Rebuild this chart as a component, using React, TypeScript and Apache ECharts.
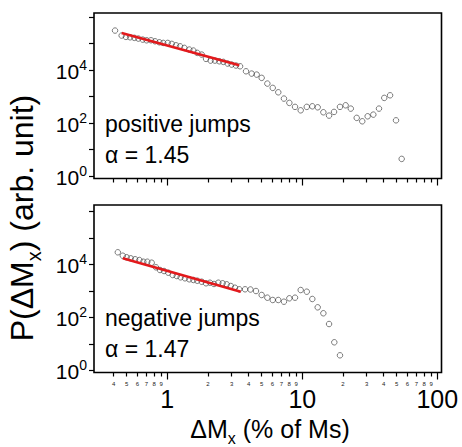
import React, { useEffect, useRef } from 'react';
import * as echarts from 'echarts';

// ---- data (ΔMx in % of Ms, P in arb. unit) ----
const posX = [0.410, 0.459, 0.494, 0.530, 0.570, 0.610, 0.658, 0.703, 0.757, 0.811, 0.873, 0.933, 1.007, 1.079, 1.159, 1.242, 1.337, 1.455, 1.560, 1.667, 1.799, 1.936, 2.094, 2.254, 2.427, 2.600, 2.799, 2.999, 3.228, 3.459, 3.828, 4.217, 4.592, 5.000, 5.508, 6.039, 6.637, 7.311, 8.017, 8.831, 9.727, 10.79, 11.86, 13.00, 14.32, 15.78, 17.18, 19.01, 20.94, 22.86, 25.29, 27.80, 30.48, 33.57, 36.98, 40.46, 44.67, 49.43, 54.45];
const posY = [3.07e5, 1.99e5, 1.77e5, 1.71e5, 1.63e5, 1.53e5, 1.40e5, 1.32e5, 1.32e5, 1.21e5, 1.11e5, 1.05e5, 1.05e5, 9.66e4, 8.55e4, 7.83e4, 6.82e4, 5.89e4, 5.40e4, 4.42e4, 3.81e4, 2.62e4, 2.26e4, 2.26e4, 2.13e4, 2.02e4, 1.75e4, 1.60e4, 1.47e4, 1.38e4, 8.93e3, 7.31e3, 6.70e3, 5.04e3, 3.07e3, 2.11e3, 1.44e3, 834, 573, 406, 301, 406, 427, 391, 254, 190, 262, 406, 466, 349, 156, 116, 179, 207, 349, 885, 1109, 126, 4.42];
const negX = [0.430, 0.468, 0.500, 0.536, 0.577, 0.621, 0.664, 0.711, 0.766, 0.824, 0.883, 0.946, 1.016, 1.096, 1.175, 1.256, 1.352, 1.455, 1.560, 1.667, 1.799, 1.936, 2.070, 2.218, 2.388, 2.570, 2.754, 2.951, 3.170, 3.412, 3.767, 4.130, 4.539, 5.000, 5.508, 6.039, 6.637, 7.311, 8.017, 8.831, 9.727, 10.79, 11.86, 13.00, 14.32, 15.78, 17.26, 19.01];
const negY = [2.84e4, 2.11e4, 1.84e4, 1.68e4, 1.55e4, 1.45e4, 1.25e4, 1.25e4, 1.15e4, 7.71e3, 6.10e3, 5.58e3, 4.82e3, 3.94e3, 3.61e3, 3.23e3, 2.96e3, 2.72e3, 2.56e3, 2.40e3, 2.20e3, 1.92e3, 2.02e3, 1.81e3, 2.02e3, 1.92e3, 1.76e3, 1.52e3, 1.31e3, 1.14e3, 1.14e3, 1.12e3, 982, 695, 550, 450, 450, 388, 521, 550, 1.07e3, 925, 491, 238, 142, 55.8, 11.4, 3.68];
const posFitX = [0.459, 3.41];
const posFitY = [2.51e5, 1.50e4];
const negFitX = [0.468, 3.50];
const negFitY = [1.68e4, 925];

const majorXTicks = [1, 10, 100];
const minorXTicks = [0.4, 0.5, 0.6, 0.7, 0.8, 0.9, 2, 3, 4, 5, 6, 7, 8, 9, 20, 30, 40, 50, 60, 70, 80, 90];
const yTicks = [1, 10, 1e2, 1e3, 1e4, 1e5, 1e6];
const yLabelTicks = [1, 1e2, 1e4];
const posText = ['positive jumps', 'α = 1.45'];
const negText = ['negative jumps', 'α = 1.47'];
const xTitle = ['ΔM', 'x', ' (% of Ms)'];
const yTitle = ['P(ΔM', 'x', ') (arb. unit)'];

const FONT = "'Liberation Sans', Arial, sans-serif";
const L = Math.log10;
const X_MIN = -0.543;
const X_MAX = 2.031;

function App() {
  const ref = useRef<HTMLDivElement>(null);
  useEffect(() => {
    if (!ref.current) return;
    const chart = echarts.init(ref.current, null, { renderer: 'svg' });

    const pts = (xs: number[], ys: number[]) => xs.map((x, i) => [L(x), L(ys[i])]);

    const xMajor = (grid: number, showLabel: boolean) => ({
      type: 'value', gridIndex: grid, position: 'bottom', min: X_MIN, max: X_MAX,
      axisLine: { show: false, onZero: false }, splitLine: { show: false },
      axisTick: { show: true, inside: false, length: 7, customValues: majorXTicks.map(L), lineStyle: { color: '#000', width: 1.2 } },
      axisLabel: {
        show: showLabel, customValues: majorXTicks.map(L), margin: 14, fontSize: 25, color: '#000', fontFamily: FONT,
        formatter: (v: number) => String(Math.round(Math.pow(10, v))),
      },
    });
    const xMinor = (grid: number, showLabel: boolean) => ({
      type: 'value', gridIndex: grid, position: 'bottom', min: X_MIN, max: X_MAX,
      axisLine: { show: false, onZero: false }, splitLine: { show: false },
      axisTick: { show: true, inside: false, length: 4, customValues: minorXTicks.map(L), lineStyle: { color: '#000', width: 1.2 } },
      axisLabel: {
        show: showLabel, customValues: minorXTicks.map(L), margin: 8, fontSize: 6, color: '#222', fontFamily: FONT,
        formatter: (v: number) => {
          const x = Math.pow(10, v);
          return String(Math.round(x / Math.pow(10, Math.floor(v + 1e-9))));
        },
      },
    });
    const yAx = (grid: number, min: number, max: number) => ({
      type: 'value', gridIndex: grid, position: 'left', min, max,
      axisLine: { show: false, onZero: false }, splitLine: { show: false },
      axisTick: { show: true, inside: false, length: 5, customValues: yTicks.map(L), lineStyle: { color: '#000', width: 1.2 } },
      axisLabel: {
        customValues: yLabelTicks.map(L), margin: 7, color: '#000', fontFamily: FONT,
        formatter: (v: number) => '{b|10}{s|' + Math.round(v) + '}',
        rich: {
          b: { fontSize: 21, lineHeight: 24, fontFamily: FONT, color: '#000', verticalAlign: 'bottom' },
          s: { fontSize: 14, lineHeight: 14, fontFamily: FONT, color: '#000', verticalAlign: 'top' },
        },
      },
    });

    const scatter = (xi: number, yi: number, data: number[][]) => ({
      type: 'scatter', xAxisIndex: xi, yAxisIndex: yi, data, symbol: 'circle', symbolSize: 5.5,
      itemStyle: { color: 'rgba(0,0,0,0)', borderColor: '#333', borderWidth: 0.8 }, z: 2,
    });
    const fit = (xi: number, yi: number, data: number[][]) => ({
      type: 'line', xAxisIndex: xi, yAxisIndex: yi, data, showSymbol: false, symbol: 'none',
      lineStyle: { color: '#e3191c', width: 2.6 }, z: 3,
    });

    const textEl = (x: number, y: number, t: string) => ({
      type: 'text', x, y, silent: true,
      style: { text: t, fontSize: 23, fontFamily: FONT, fill: '#000', align: 'left', verticalAlign: 'middle' },
    });

    chart.setOption({
      animation: false,
      backgroundColor: '#fff',
      grid: [
        { left: 94, right: 20.5, top: 13, height: 165.5, show: true, borderColor: '#000', borderWidth: 1.6, backgroundColor: 'transparent', outerBoundsMode: 'none' },
        { left: 94, right: 20.5, top: 205, height: 167.5, show: true, borderColor: '#000', borderWidth: 1.6, backgroundColor: 'transparent', outerBoundsMode: 'none' },
      ],
      xAxis: [xMajor(0, false), xMinor(0, false), xMajor(1, true), xMinor(1, true)],
      yAxis: [yAx(0, -0.094, 6.15), yAx(1, -0.083, 6.238)],
      series: [
        scatter(0, 0, pts(posX, posY)),
        fit(0, 0, pts(posFitX, posFitY)),
        scatter(2, 1, pts(negX, negY)),
        fit(2, 1, pts(negFitX, negFitY)),
      ],
      graphic: [
        textEl(105, 123.5, posText[0]),
        textEl(105, 155.3, posText[1]),
        textEl(105, 317.5, negText[0]),
        textEl(105, 349.3, negText[1]),
        {
          type: 'text', x: 270, y: 431, silent: true,
          style: {
            text: '{a|' + xTitle[0] + '}{s|' + xTitle[1] + '}{a|' + xTitle[2] + '}',
            align: 'center', verticalAlign: 'middle',
            rich: {
              a: { fontSize: 25, lineHeight: 30, fontFamily: FONT, fill: '#000', color: '#000', verticalAlign: 'top' },
              s: { fontSize: 16, lineHeight: 16, fontFamily: FONT, fill: '#000', color: '#000', verticalAlign: 'bottom' },
            },
          },
        },
        {
          type: 'text', x: 25, y: 218, rotation: Math.PI / 2, silent: true,
          style: {
            text: '{a|' + yTitle[0] + '}{s|' + yTitle[1] + '}{a|' + yTitle[2] + '}',
            align: 'center', verticalAlign: 'middle',
            rich: {
              a: { fontSize: 32, lineHeight: 38, fontFamily: FONT, fill: '#000', color: '#000', verticalAlign: 'top' },
              s: { fontSize: 20, lineHeight: 20, fontFamily: FONT, fill: '#000', color: '#000', verticalAlign: 'bottom' },
            },
          },
        },
      ],
    });
    return () => chart.dispose();
  }, []);
  return <div ref={ref} style={{ position: 'fixed', left: 0, top: 0, width: 462, height: 447, background: '#fff' }} />;
}

export default App;
